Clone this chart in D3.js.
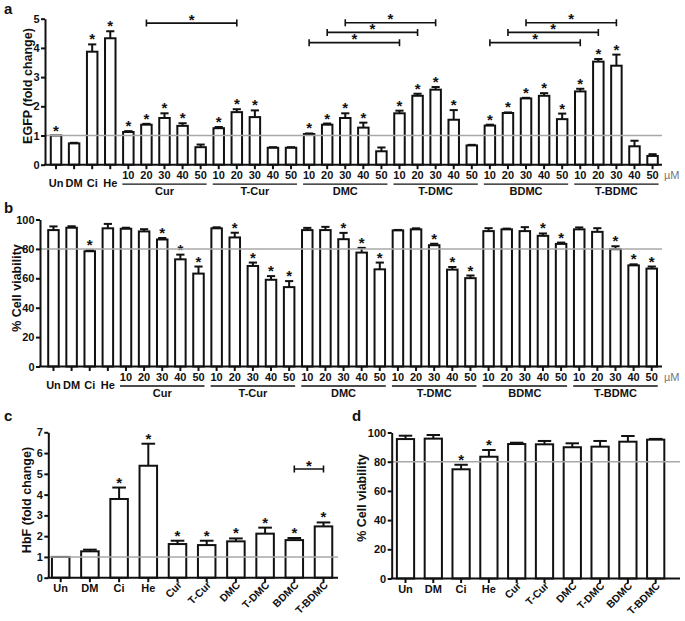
<!DOCTYPE html>
<html><head><meta charset="utf-8">
<script src="https://cdn.jsdelivr.net/npm/d3@7"></script>
<style>
body{margin:0;background:#fff}
text{font-family:"Liberation Sans",Arial,sans-serif;font-weight:bold;fill:#111}
</style>
</head><body>
<svg id="chart" width="685" height="621"></svg>
<script>
// ---------------- DATA ----------------
const controls = ["Un","DM","Ci","He"];
const compounds = ["Cur","T-Cur","DMC","T-DMC","BDMC","T-BDMC"];
const doses = ["10","20","30","40","50"];

// Panel a: EGFP (fold change), 4 controls + 6 compounds x 5 doses
const egfpMean = [1.00,0.73,3.87,4.33,
  1.12,1.37,1.60,1.33,0.60,
  1.25,1.80,1.63,0.58,0.58,
  1.05,1.37,1.60,1.27,0.46,
  1.76,2.36,2.57,1.54,0.66,
  1.34,1.77,2.27,2.36,1.56,
  2.51,3.53,3.39,0.63,0.30];
const egfpErr = [0,0.02,0.25,0.24,
  0.03,0.03,0.16,0.09,0.09,
  0.04,0.10,0.23,0.02,0.02,
  0.02,0.04,0.16,0.17,0.13,
  0.09,0.07,0.09,0.33,0.02,
  0.03,0.02,0.02,0.09,0.19,
  0.09,0.09,0.38,0.19,0.06];
const egfpSig = [1,0,1,1, 1,1,1,1,0, 1,1,1,0,0, 1,1,1,1,0, 1,1,1,1,0, 1,1,1,1,1, 1,1,1,0,0];
// brackets: [from category, to category, level in data units]
const egfpBrackets = [["Cur 20","T-Cur 20",4.85],
  ["DMC 10","T-DMC 10",4.18],["DMC 20","T-DMC 20",4.53],["DMC 30","T-DMC 30",4.86],
  ["BDMC 10","T-BDMC 10",4.18],["BDMC 20","T-BDMC 20",4.53],["BDMC 30","T-BDMC 30",4.86]];

// Panel b: % cell viability
const viabMean = [92.8,94.4,78.4,94.0,
  93.7,91.9,86.4,72.9,63.2,
  94.0,87.8,68.4,59.0,54.0,
  92.8,92.8,86.6,77.5,66.1,
  92.6,93.3,82.5,65.9,60.1,
  92.1,93.3,92.1,88.9,83.4,
  93.3,91.6,79.8,68.8,66.6];
const viabErr = [2.5,1.0,0.6,3.0,
  0.7,1.5,1.0,3.2,4.8,
  0.7,3.2,2.3,2.5,4.1,
  1.5,2.2,4.3,3.2,4.6,
  0.3,0.7,1.0,1.8,1.8,
  2.0,0.5,2.7,1.6,0.9,
  1.3,2.5,2.0,0.7,1.4];
const viabSig = [0,0,1,0, 0,0,1,1,1, 0,1,1,1,1, 0,0,1,1,1, 0,0,1,1,1, 0,0,0,1,1, 0,0,1,1,1];

// Panel c: HbF (fold change)
const summaryCats = ["Un","DM","Ci","He","Cur","T-Cur","DMC","T-DMC","BDMC","T-BDMC"];
const hbfMean = [1.00,1.27,3.79,5.39,1.62,1.57,1.75,2.12,1.81,2.47];
const hbfErr  = [0,0.08,0.55,1.06,0.16,0.21,0.14,0.29,0.10,0.19];
const hbfSig  = [0,0,1,1,1,1,1,1,1,1];
const hbfBrackets = [["BDMC","T-BDMC",5.23]];

// Panel d: % cell viability
const viab2Mean = [95.5,95.8,74.8,83.4,92.1,91.9,89.9,90.3,93.7,95.1];
const viab2Err  = [2.3,2.5,3.1,4.6,0.9,2.3,2.7,3.9,3.9,0.5];
const viab2Sig  = [0,0,1,1,0,0,0,0,0,0];

const egfpTicks = [0,1,2,3,4,5];
const viabTicks = [0,20,40,60,80,100];
const hbfTicks = [0,1,2,3,4,5,6,7];

// ---------------- DRAW ----------------
const svg = d3.select("#chart");
const doseCats = controls.concat(compounds.flatMap(c => doses.map(d => c + " " + d)));
const FS = 11;

function panel(o) {
  const g = svg.append("g");
  const x = d3.scaleBand().domain(o.cats).range(o.xr).paddingInner(o.pad).paddingOuter(o.pad/2);
  const y = d3.scaleLinear().domain(o.yd).range(o.yr);
  const bw = x.bandwidth();
  const cx = c => x(c) + bw/2;

  g.selectAll("rect.bar").data(o.cats).join("rect")
    .attr("x", c => x(c)).attr("width", bw)
    .attr("y", (c,i) => y(o.mean[i])).attr("height", (c,i) => y(0) - y(o.mean[i]))
    .attr("fill", "#fff").attr("stroke", "#111").attr("stroke-width", 2);
  const cap = bw * 0.78;
  o.cats.forEach((c,i) => {
    if (o.err[i] <= 0) return;
    const yt = y(o.mean[i] + o.err[i]);
    g.append("line").attr("x1", cx(c)).attr("x2", cx(c)).attr("y1", y(o.mean[i])).attr("y2", yt)
      .attr("stroke", "#111").attr("stroke-width", 2);
    g.append("line").attr("x1", cx(c) - cap/2).attr("x2", cx(c) + cap/2).attr("y1", yt).attr("y2", yt)
      .attr("stroke", "#111").attr("stroke-width", 2);
  });
  o.cats.forEach((c,i) => {
    if (!o.sig[i]) return;
    g.append("text").attr("x", cx(c)).attr("y", y(o.mean[i] + o.err[i]) + o.starOff)
      .attr("text-anchor", "middle").style("font-size", o.starSize + "px").text("*");
  });
  g.append("line").attr("x1", o.axX).attr("x2", o.axEnd).attr("y1", y(o.ref)).attr("y2", y(o.ref))
    .attr("stroke", "#a8a8a8").attr("stroke-width", 1.5);
  (o.brackets || []).forEach(b => {
    const x1 = cx(b[0]), x2 = cx(b[1]), yy = y(b[2]);
    g.append("path").attr("d", `M${x1},${yy-3.5}V${yy+3.5}M${x1},${yy}H${x2}M${x2},${yy-3.5}V${yy+3.5}`)
      .attr("fill", "none").attr("stroke", "#111").attr("stroke-width", 1.6);
    g.append("text").attr("x", (x1+x2)/2).attr("y", yy + o.starOff + 1.5)
      .attr("text-anchor", "middle").style("font-size", o.starSize + "px").text("*");
  });
  const ya = g.append("g").attr("transform", `translate(${o.axX},0)`)
    .call(d3.axisLeft(y).tickValues(o.ticks).tickFormat(d3.format("d")).tickSize(4).tickSizeOuter(0).tickPadding(1.5));
  ya.select(".domain").attr("stroke-width", 2).attr("stroke", "#111");
  ya.selectAll(".tick line").attr("stroke-width", 2).attr("stroke", "#111");
  ya.selectAll(".tick text").style("font-size", FS + "px").style("font-family", "Liberation Sans, Arial, sans-serif")
    .style("font-weight", "bold").attr("fill", "#111");
  g.append("line").attr("x1", o.axX - 1).attr("x2", o.axEnd).attr("y1", y(0)).attr("y2", y(0))
    .attr("stroke", "#111").attr("stroke-width", 2);
  g.selectAll("line.xt").data(o.cats).join("line")
    .attr("x1", cx).attr("x2", cx).attr("y1", y(0)).attr("y2", y(0) + 4.5)
    .attr("stroke", "#111").attr("stroke-width", 2);
  g.append("text").attr("transform", `translate(${o.titleX},${o.titleY}) rotate(-90)`)
    .attr("text-anchor", "middle").style("font-size", "12.5px").text(o.title);
  g.append("text").attr("x", o.letterX).attr("y", o.letterY).style("font-size", "15px").text(o.letter);
  return {g, x, y, cx};
}

function doseLabels(p, y0) {
  const {g, cx} = p;
  controls.forEach(c => g.append("text").attr("x", cx(c)).attr("y", y0 + 22.5)
    .attr("text-anchor", "middle").style("font-size", FS + "px").text(c));
  compounds.forEach(cp => {
    doses.forEach(d => g.append("text").attr("x", cx(cp + " " + d)).attr("y", y0 + 14.5)
      .attr("text-anchor", "middle").style("font-size", FS + "px").text(d));
    const a = cx(cp + " 10") - 6, b = cx(cp + " 50") + 6;
    g.append("line").attr("x1", a).attr("x2", b).attr("y1", y0 + 19.5).attr("y2", y0 + 19.5)
      .attr("stroke", "#111").attr("stroke-width", 1.3);
    g.append("text").attr("x", (a + b) / 2).attr("y", y0 + 30.5)
      .attr("text-anchor", "middle").style("font-size", FS + "px").text(cp);
  });
  g.append("text").attr("x", 664).attr("y", y0 + 14.5).style("font-size", FS + "px")
    .style("font-weight", "normal").style("fill", "#777").text("\u00b5M");
}

function summaryLabels(p, y0) {
  const {g, cx} = p;
  summaryCats.forEach((c, i) => {
    if (i < 4) {
      g.append("text").attr("x", cx(c)).attr("y", y0 + 14).attr("text-anchor", "middle")
        .style("font-size", FS + "px").text(c);
    } else {
      g.append("text").attr("transform", `translate(${cx(c) + 5},${y0 + 8}) rotate(-45)`)
        .attr("text-anchor", "end").style("font-size", "10.5px").text(c);
    }
  });
}

const pa = panel({cats: doseCats, xr: [47, 661.6], pad: 0.42, yd: [0,5], yr: [164.7, 18.7],
  mean: egfpMean, err: egfpErr, sig: egfpSig, ref: 1, brackets: egfpBrackets, ticks: egfpTicks,
  axX: 45, axEnd: 662, starOff: 0, starSize: 15, title: "EGFP (fold change)", titleX: 32, titleY: 86,
  letter: "a", letterX: 4, letterY: 14});
doseLabels(pa, 164.7);

const pb = panel({cats: doseCats, xr: [44.4, 660.8], pad: 0.42, yd: [0,100], yr: [366.5, 219.5],
  mean: viabMean, err: viabErr, sig: viabSig, ref: 80, ticks: viabTicks,
  axX: 40, axEnd: 662, starOff: 0, starSize: 15, title: "% Cell viability", titleX: 21, titleY: 288,
  letter: "b", letterX: 4, letterY: 213});
doseLabels(pb, 366.5);

const pc = panel({cats: summaryCats, xr: [46.1, 338.1], pad: 0.40, yd: [0,7], yr: [577.7, 432.3],
  mean: hbfMean, err: hbfErr, sig: hbfSig, ref: 1, brackets: hbfBrackets, ticks: hbfTicks,
  axX: 48.3, axEnd: 338, starOff: 0, starSize: 15, title: "HbF (fold change)", titleX: 31, titleY: 500,
  letter: "c", letterX: 4, letterY: 421});
summaryLabels(pc, 577.7);

const pd = panel({cats: summaryCats, xr: [391.6, 669.6], pad: 0.38, yd: [0,100], yr: [578.5, 432.5],
  mean: viab2Mean, err: viab2Err, sig: viab2Sig, ref: 80, ticks: viabTicks,
  axX: 391.7, axEnd: 680, starOff: 0, starSize: 15, title: "% Cell viability", titleX: 366, titleY: 498,
  letter: "d", letterX: 352, letterY: 421});
summaryLabels(pd, 578.5);
</script>
</body></html>
